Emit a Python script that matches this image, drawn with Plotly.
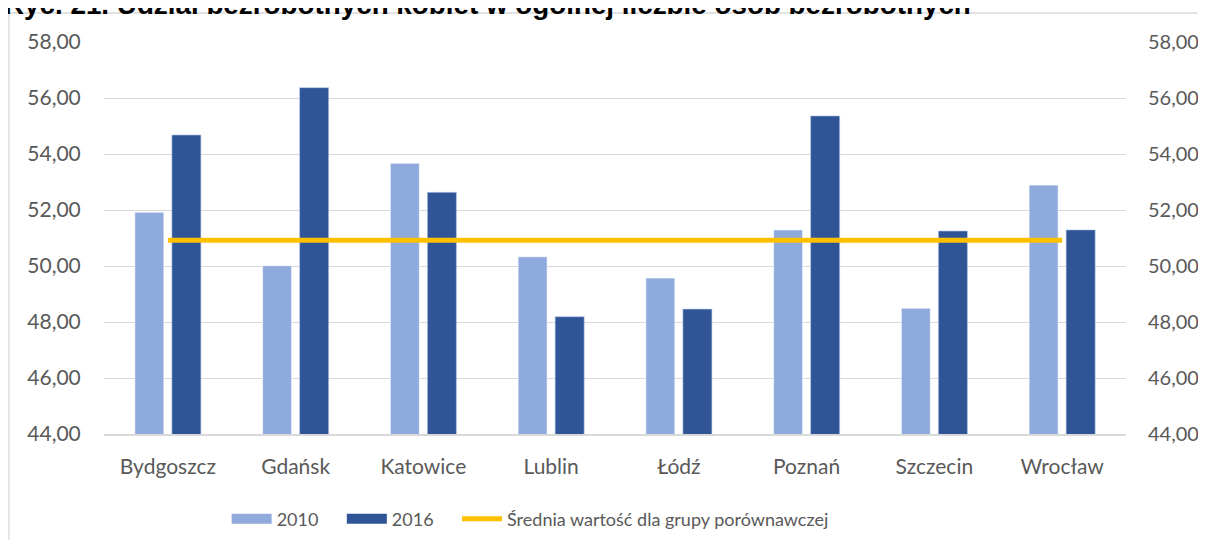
import plotly.graph_objects as go

cities = ["Bydgoszcz", "Gdańsk", "Katowice", "Lublin", "Łódź", "Poznań", "Szczecin", "Wrocław"]
v2010 = [51.92, 50.01, 53.67, 50.33, 49.57, 51.29, 48.49, 52.89]
v2016 = [54.68, 56.37, 52.63, 48.19, 48.46, 55.36, 51.25, 51.29]
avg_value = 50.92
avg = [avg_value] * len(cities)
tick_vals = [44, 46, 48, 50, 52, 54, 56, 58]

title_text = "Ryc. 21. Udział bezrobotnych kobiet w ogólnej liczbie osób bezrobotnych"
avg_name = "Średnia wartość dla grupy porównawczej"
pad = "\u00a0" * 4

c2010 = "#8FAADC"
c2016 = "#2F5597"
cavg = "#FFC000"
font_fam = "Lato, 'Open Sans', sans-serif"
txt_col = "#595959"

fig = go.Figure()
fig.add_trace(go.Bar(x=cities, y=v2010, name="2010",
                     marker=dict(color=c2010, line=dict(color="rgba(255,255,255,0.6)", width=1)),
                     showlegend=False))
fig.add_trace(go.Bar(x=cities, y=v2016, name="2016",
                     marker=dict(color=c2016, line=dict(color="rgba(180,200,235,0.6)", width=1)),
                     showlegend=False))
# legend-only entries drawn as wide swatches
fig.add_trace(go.Scatter(x=[None], y=[None], mode="lines", name="2010" + pad,
                         line=dict(color=c2010, width=10), showlegend=True))
fig.add_trace(go.Scatter(x=[None], y=[None], mode="lines", name="2016" + pad,
                         line=dict(color=c2016, width=10), showlegend=True))
fig.add_trace(go.Scatter(x=cities, y=avg, mode="lines", name=avg_name, yaxis="y2",
                         line=dict(color=cavg, width=5), showlegend=True))

axis_font = dict(family=font_fam, size=21, color=txt_col)
right_font = dict(family=font_fam, size=20, color=txt_col)
fig.update_layout(
    width=1190, height=532,
    margin=dict(l=96, r=72, t=34, b=106, autoexpand=False),
    paper_bgcolor="white", plot_bgcolor="white",
    separators=", ",
    barmode="group", bargap=0.42, bargroupgap=0.216,
    font=axis_font,
    xaxis=dict(showgrid=False, showline=True, linecolor="#d9d9d9", linewidth=1.5, automargin=False,
               ticks="outside", ticklen=13, tickcolor="rgba(0,0,0,0)", tickfont=axis_font),
    yaxis=dict(range=[44, 58], tickvals=tick_vals, tickformat=".2f", showgrid=True, automargin=False,
               gridcolor="#d9d9d9", gridwidth=1.3, zeroline=False,
               ticks="outside", ticklen=18, tickcolor="rgba(0,0,0,0)", tickfont=axis_font),
    yaxis2=dict(range=[44, 58], tickvals=tick_vals, tickformat=".2f", overlaying="y", side="right",
                showgrid=False, zeroline=False, ticks="outside", ticklen=17, automargin=False,
                tickcolor="rgba(0,0,0,0)", tickfont=right_font),
    legend=dict(orientation="h", x=0.12, xanchor="left", y=-0.217, yanchor="middle",
                font=dict(family=font_fam, size=18, color=txt_col), itemwidth=40,
                traceorder="normal"),
    showlegend=True,
)

# outer chart frame (left and top edges visible in the reference)
fig.add_shape(type="line", xref="paper", yref="paper", x0=-0.093, x1=-0.093, y0=-0.27, y1=1.074,
              line=dict(color="#d9d9d9", width=1.3), layer="below")
fig.add_shape(type="line", xref="paper", yref="paper", x0=-0.093, x1=1.07, y0=1.074, y1=1.074,
              line=dict(color="#d9d9d9", width=1.3), layer="below")

fig.add_annotation(text="<b>" + title_text + "</b>", xref="paper", yref="paper", x=-0.1, y=1.0,
                   xanchor="left", yanchor="middle", yshift=38, showarrow=False,
                   font=dict(family="Liberation Sans, Arial, sans-serif", size=27.8, color="black"))

fig.write_html("out.html")
